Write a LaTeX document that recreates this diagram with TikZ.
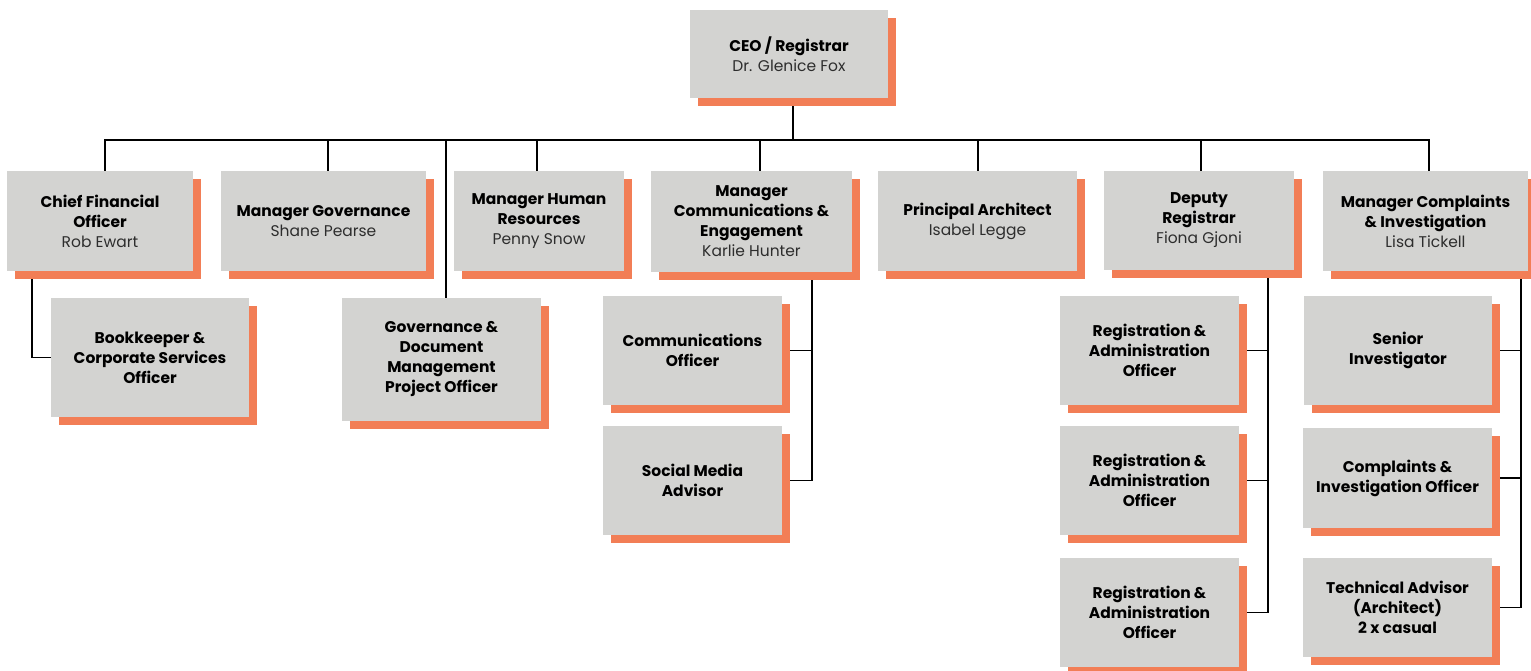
\documentclass[tikz,border=0pt]{standalone}
\usepackage{fontspec}
\setmainfont{Poppins}
\usetikzlibrary{shadows,backgrounds}
\definecolor{boxgray}{RGB}{211,211,209}
\definecolor{shadoworange}{RGB}{242,126,86}
\definecolor{namegray}{RGB}{45,45,45}
\newcommand{\pname}[1]{{\mdseries\color{namegray}#1}}
\begin{document}
\begin{tikzpicture}[x=1pt,y=-1pt,
  orgbox/.style={fill=boxgray,
    general shadow={fill=shadoworange, shadow xshift=8pt, shadow yshift=-8pt},
    align=center, inner sep=0pt, text=black,
    font=\bfseries\fontsize{15.5}{20}\selectfont},
  link/.style={draw=black, line width=1.9pt}]
\useasboundingbox (0,0) rectangle (1531,671);

% top
\node[orgbox, minimum width=198pt, minimum height=88pt] (ceo) at (789,54) {CEO / Registrar\\\pname{Dr. Glenice Fox}};

% row 1
\node[orgbox, minimum width=186pt, minimum height=100pt] (cfo) at (100,221) {Chief Financial\\Officer\\\pname{Rob Ewart}};
\node[orgbox, minimum width=205pt, minimum height=100pt] (mgov) at (323.5,221) {Manager Governance\\\pname{Shane Pearse}};
\node[orgbox, minimum width=170pt, minimum height=100pt] (mhr) at (539,221) {Manager Human\\Resources\\\pname{Penny Snow}};
\node[orgbox, minimum width=201pt, minimum height=101pt] (mce) at (751.5,221.5) {Manager\\Communications \&\\Engagement\\\pname{Karlie Hunter}};
\node[orgbox, minimum width=199pt, minimum height=100pt] (pa) at (977.5,221) {Principal Architect\\\pname{Isabel Legge}};
\node[orgbox, minimum width=190pt, minimum height=99pt] (dr) at (1199,220.5) {Deputy\\Registrar\\\pname{Fiona Gjoni}};
\node[orgbox, minimum width=205pt, minimum height=100pt] (mci) at (1425.5,221) {Manager Complaints\\\& Investigation\\\pname{Lisa Tickell}};

% row 2+
\node[orgbox, minimum width=198pt, minimum height=119pt] (book) at (150,357.5) {Bookkeeper \&\\Corporate Services\\Officer};
\node[orgbox, minimum width=199pt, minimum height=123pt] (govdoc) at (441.5,359.5) {Governance \&\\Document\\Management\\Project Officer};
\node[orgbox, minimum width=179pt, minimum height=109pt] (comoff) at (692.5,350.5) {Communications\\Officer};
\node[orgbox, minimum width=179pt, minimum height=109pt] (smedia) at (692.5,480.5) {Social Media\\Advisor};
\node[orgbox, minimum width=179pt, minimum height=109pt] (reg1) at (1149.5,350.5) {Registration \&\\Administration\\Officer};
\node[orgbox, minimum width=179pt, minimum height=109pt] (reg2) at (1149.5,480.5) {Registration \&\\Administration\\Officer};
\node[orgbox, minimum width=179pt, minimum height=109pt] (reg3) at (1149.5,612.5) {Registration \&\\Administration\\Officer};
\node[orgbox, minimum width=188pt, minimum height=109pt] (si) at (1398,350.5) {Senior\\Investigator};
\node[orgbox, minimum width=189pt, minimum height=100pt] (cio) at (1397.5,478) {Complaints \&\\Investigation Officer};
\node[orgbox, minimum width=189pt, minimum height=99pt] (ta) at (1397.5,607.5) {Technical Advisor\\(Architect)\\2 x casual};

\begin{scope}[on background layer]
\coordinate (bus) at (0,140);
\draw[link] ([xshift=4pt]ceo.south) -- ([xshift=4pt]ceo.south |- bus);
\draw[link] ([xshift=5pt]cfo.north) -- ([xshift=5pt]cfo.north |- bus) -- ([xshift=3.5pt]mci.north |- bus) -- ([xshift=3.5pt]mci.north);
\draw[link] ([xshift=4.5pt]mgov.north) -- ([xshift=4.5pt]mgov.north |- bus);
\draw[link] ([xshift=-2pt]mhr.north) -- ([xshift=-2pt]mhr.north |- bus);
\draw[link] ([xshift=8.5pt]mce.north) -- ([xshift=8.5pt]mce.north |- bus);
\draw[link] ([xshift=0.5pt]pa.north) -- ([xshift=0.5pt]pa.north |- bus);
\draw[link] ([xshift=2pt]dr.north) -- ([xshift=2pt]dr.north |- bus);
\draw[link] ([xshift=4.5pt]govdoc.north) -- ([xshift=4.5pt]govdoc.north |- bus);
% CFO -> bookkeeper
\draw[link] ([xshift=25pt]cfo.south west) |- (book.west);
% comms
\coordinate (mceSp) at ([xshift=-40pt]mce.south east);
\draw[link] (mceSp) |- (smedia.east);
\draw[link] (comoff.east) -- (comoff.east -| mceSp);
% deputy
\coordinate (drSp) at ([xshift=-26pt]dr.south east);
\draw[link] (drSp) |- (reg3.east);
\draw[link] (reg1.east) -- (reg1.east -| drSp);
\draw[link] (reg2.east) -- (reg2.east -| drSp);
% complaints
\coordinate (mciSp) at ([xshift=-7pt]mci.south east);
\draw[link] (mciSp) |- (ta.east);
\draw[link] (si.east) -- (si.east -| mciSp);
\draw[link] (cio.east) -- (cio.east -| mciSp);
\end{scope}
\end{tikzpicture}
\end{document}
